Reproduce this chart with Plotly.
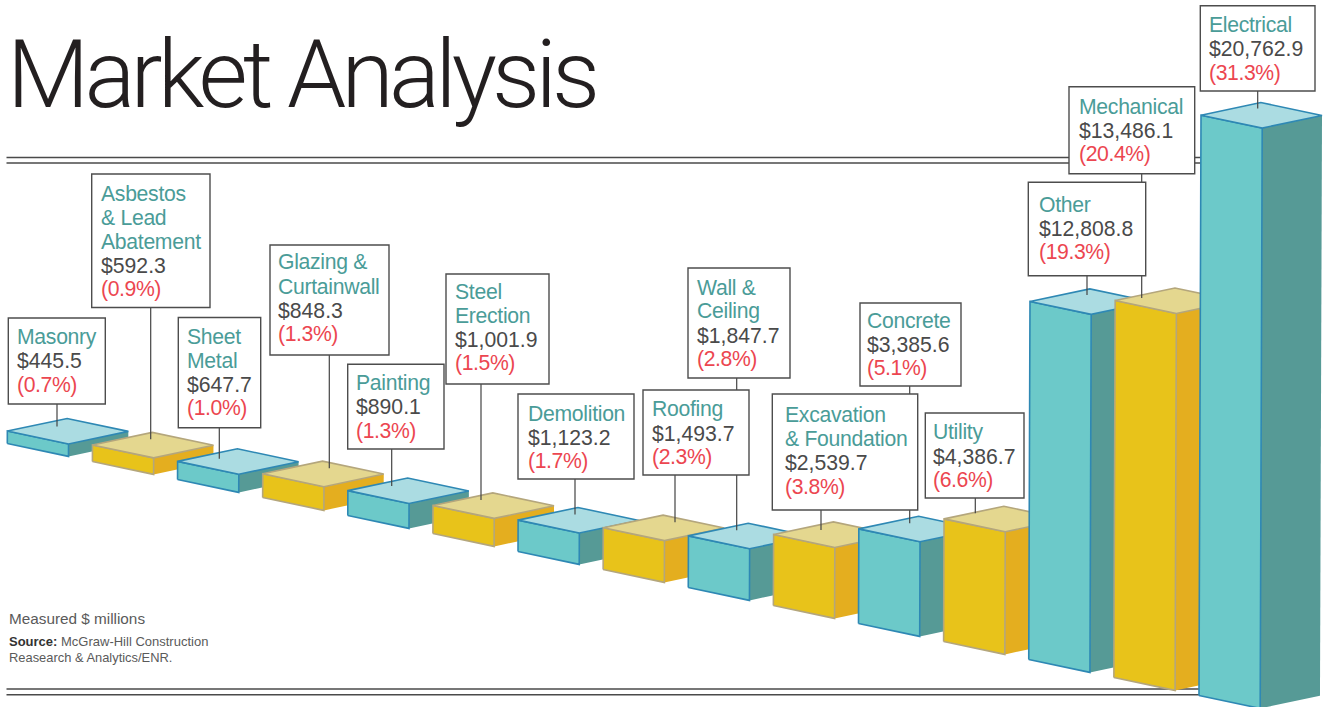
import plotly.graph_objects as go

# ---------- data ----------
categories = [
    ["Masonry"], ["Asbestos", "& Lead", "Abatement"], ["Sheet", "Metal"],
    ["Glazing &", "Curtainwall"], ["Painting"], ["Steel", "Erection"], ["Demolition"],
    ["Roofing"], ["Wall &", "Ceiling"], ["Excavation", "& Foundation"], ["Concrete"],
    ["Utility"], ["Other"], ["Mechanical"], ["Electrical"],
]
values = [445.5, 592.3, 647.7, 848.3, 890.1, 1001.9, 1123.2, 1493.7,
          1847.7, 2539.7, 3385.6, 4386.7, 12808.8, 13486.1, 20762.9]
shares = [0.7, 0.9, 1.0, 1.3, 1.3, 1.5, 1.7, 2.3, 2.8, 3.8, 5.1, 6.6, 19.3, 20.4, 31.3]

# ---------- layout of the drawing ----------
W, H = 1323, 707
K = 0.02795           # px per $ million
X0, Y0 = 7.3, 443.5   # base of the first bar
DX, DY = 85.12, 18.0  # step between bars
FW, FH = 61.2, 12.9   # front face
SW, SH = 59.8, -12.6  # side face
SKEW = 0.0035
FONT = "Liberation Sans"
TITLE_FONT = "Roboto"

# label boxes: left, top, right, bottom, text x, leader x, leader tip offset, first-line offset
boxes = [
    (8.3, 318, 105.3, 404, 17, 57, 8, 18.5),
    (91.7, 174, 210, 307.5, 101, 150.7, 7, 19),
    (178.3, 317.5, 260.7, 427.7, 187, 219.3, 10, 18.5),
    (270, 245, 389, 355, 278, 329.3, 7, 17),
    (347.7, 364.3, 444, 449, 356, 391.7, 8, 18.5),
    (446, 274, 549, 384, 455, 481, 7, 17),
    (518, 394, 634, 479, 528, 575, 7, 19),
    (643, 390, 749, 475, 652, 675, 7, 19),
    (688, 268, 790, 378, 697, 736.7, 7, 19),
    (772.3, 394, 917.7, 510, 785, 821, 8, 20.5),
    (860, 303, 961, 386, 867, 909.7, 7, 17),
    (925.3, 413, 1024, 498, 933, 975.3, 7, 19),
    (1028.3, 182.3, 1145.7, 275.7, 1039, 1087, 6, 22),
    (1069, 86.7, 1194.7, 173.7, 1079, 1141.7, 10, 19.5),
    (1200.3, 5.7, 1315, 91, 1209, 1257.7, 6, 19),
]

TEAL = dict(front="#6CC9C9", top="#ABDCE2", side="#569A96", line="#2E88B4")
GOLD = dict(front="#E8C31A", top="#E4D78F", side="#E4AE1F", line="#B4A67C")
NAME_C, VAL_C, PCT_C = "#4A9C98", "#4A4A4A", "#EC4650"
INK = "#5A5A5A"

fig = go.Figure()


def poly(xs, ys, fill, line, width, name):
    fig.add_trace(go.Scatter(
        x=xs + xs[:1], y=ys + ys[:1], mode="lines", fill="toself", fillcolor=fill,
        line=dict(color=line, width=width), hoverinfo="skip", showlegend=False, name=name))


tips = []
for i, v in enumerate(values):
    c = TEAL if i % 2 == 0 else GOLD
    name = " ".join(categories[i])
    h = v * K
    s = h * SKEW
    xb, yb = X0 + i * DX, Y0 + i * DY
    t = yb - h
    poly([xb + FW, xb + FW + SW, xb + FW + SW + s, xb + FW + s],
         [yb + FH, yb + FH + SH, t + FH + SH, t + FH], c["side"], c["side"], 0, name)
    poly([xb, xb + FW, xb + FW + s, xb + s],
         [yb, yb + FH, t + FH, t], c["front"], c["line"], 1.6, name)
    poly([xb + s, xb + FW + s, xb + FW + SW + s, xb + SW + s],
         [t, t + FH, t + FH + SH, t + SH], c["top"], c["line"], 1.6, name)
    tips.append(t + SH)

# leaders run above the bars but beneath every label box
for i, b in enumerate(boxes):
    fig.add_trace(go.Scatter(
        x=[b[5], b[5]], y=[b[3], tips[i] + b[6]], mode="lines",
        line=dict(color="#444444", width=1.2), hoverinfo="skip", showlegend=False))

shapes = []
# double rules, behind the bars
for y, x1 in [(157.5, 1205), (163, 1205), (689, 1205), (694.8, 1205)]:
    shapes.append(dict(type="line", xref="x", yref="y", x0=6.5, x1=x1, y0=y, y1=y,
                       line=dict(color="#4A4A4A", width=1.5), layer="below"))
for b in boxes:
    shapes.append(dict(type="rect", xref="x", yref="y", x0=b[0], x1=b[2], y0=b[1], y1=b[3],
                       fillcolor="white", line=dict(color="#4D4D4D", width=1.4), layer="above"))

ann = []


def txt(x, y, text, size, color, family=FONT, weight=300):
    ann.append(dict(x=x, y=y, xref="x", yref="y", text=text, showarrow=False,
                    xanchor="left", yanchor="middle", align="left", borderpad=0, borderwidth=0,
                    font=dict(family=family, size=size, color=color, weight=weight)))


def tight(s, px):
    return f'<span style="letter-spacing:{px}px">{s}</span>'


for i, b in enumerate(boxes):
    y = b[1] + b[7]
    for ln in categories[i]:
        txt(b[4], y, tight(ln.replace("&", "&amp;"), -0.3), 21.2, NAME_C)
        y += 24
    txt(b[4], y, f"${values[i]:,.1f}", 21.2, VAL_C)
    y += 24
    txt(b[4], y, tight(f"({shares[i]:.1f}%)", -0.4), 21.2, PCT_C)

txt(7, 74, tight("Market Analysis", -4.8), 95, "#231F20", TITLE_FONT)
txt(9, 618, "Measured $ millions", 15.3, INK)
txt(9, 641, '<b style="font-weight:700;fill:#333333">Source:</b> McGraw-Hill Construction', 13, INK)
txt(9, 657, "Reasearch &amp; Analytics/ENR.", 12.9, INK)

fig.update_layout(
    width=W, height=H, margin=dict(l=0, r=0, t=0, b=0), autosize=False,
    paper_bgcolor="white", plot_bgcolor="white", showlegend=False,
    xaxis=dict(range=[0, W], visible=False, fixedrange=True),
    yaxis=dict(range=[H, 0], visible=False, fixedrange=True),
    shapes=shapes, annotations=ann,
)

fig.write_html("out.html", config=dict(displayModeBar=False),
               post_script="document.body.style.margin='0';document.documentElement.style.overflow='hidden';")
